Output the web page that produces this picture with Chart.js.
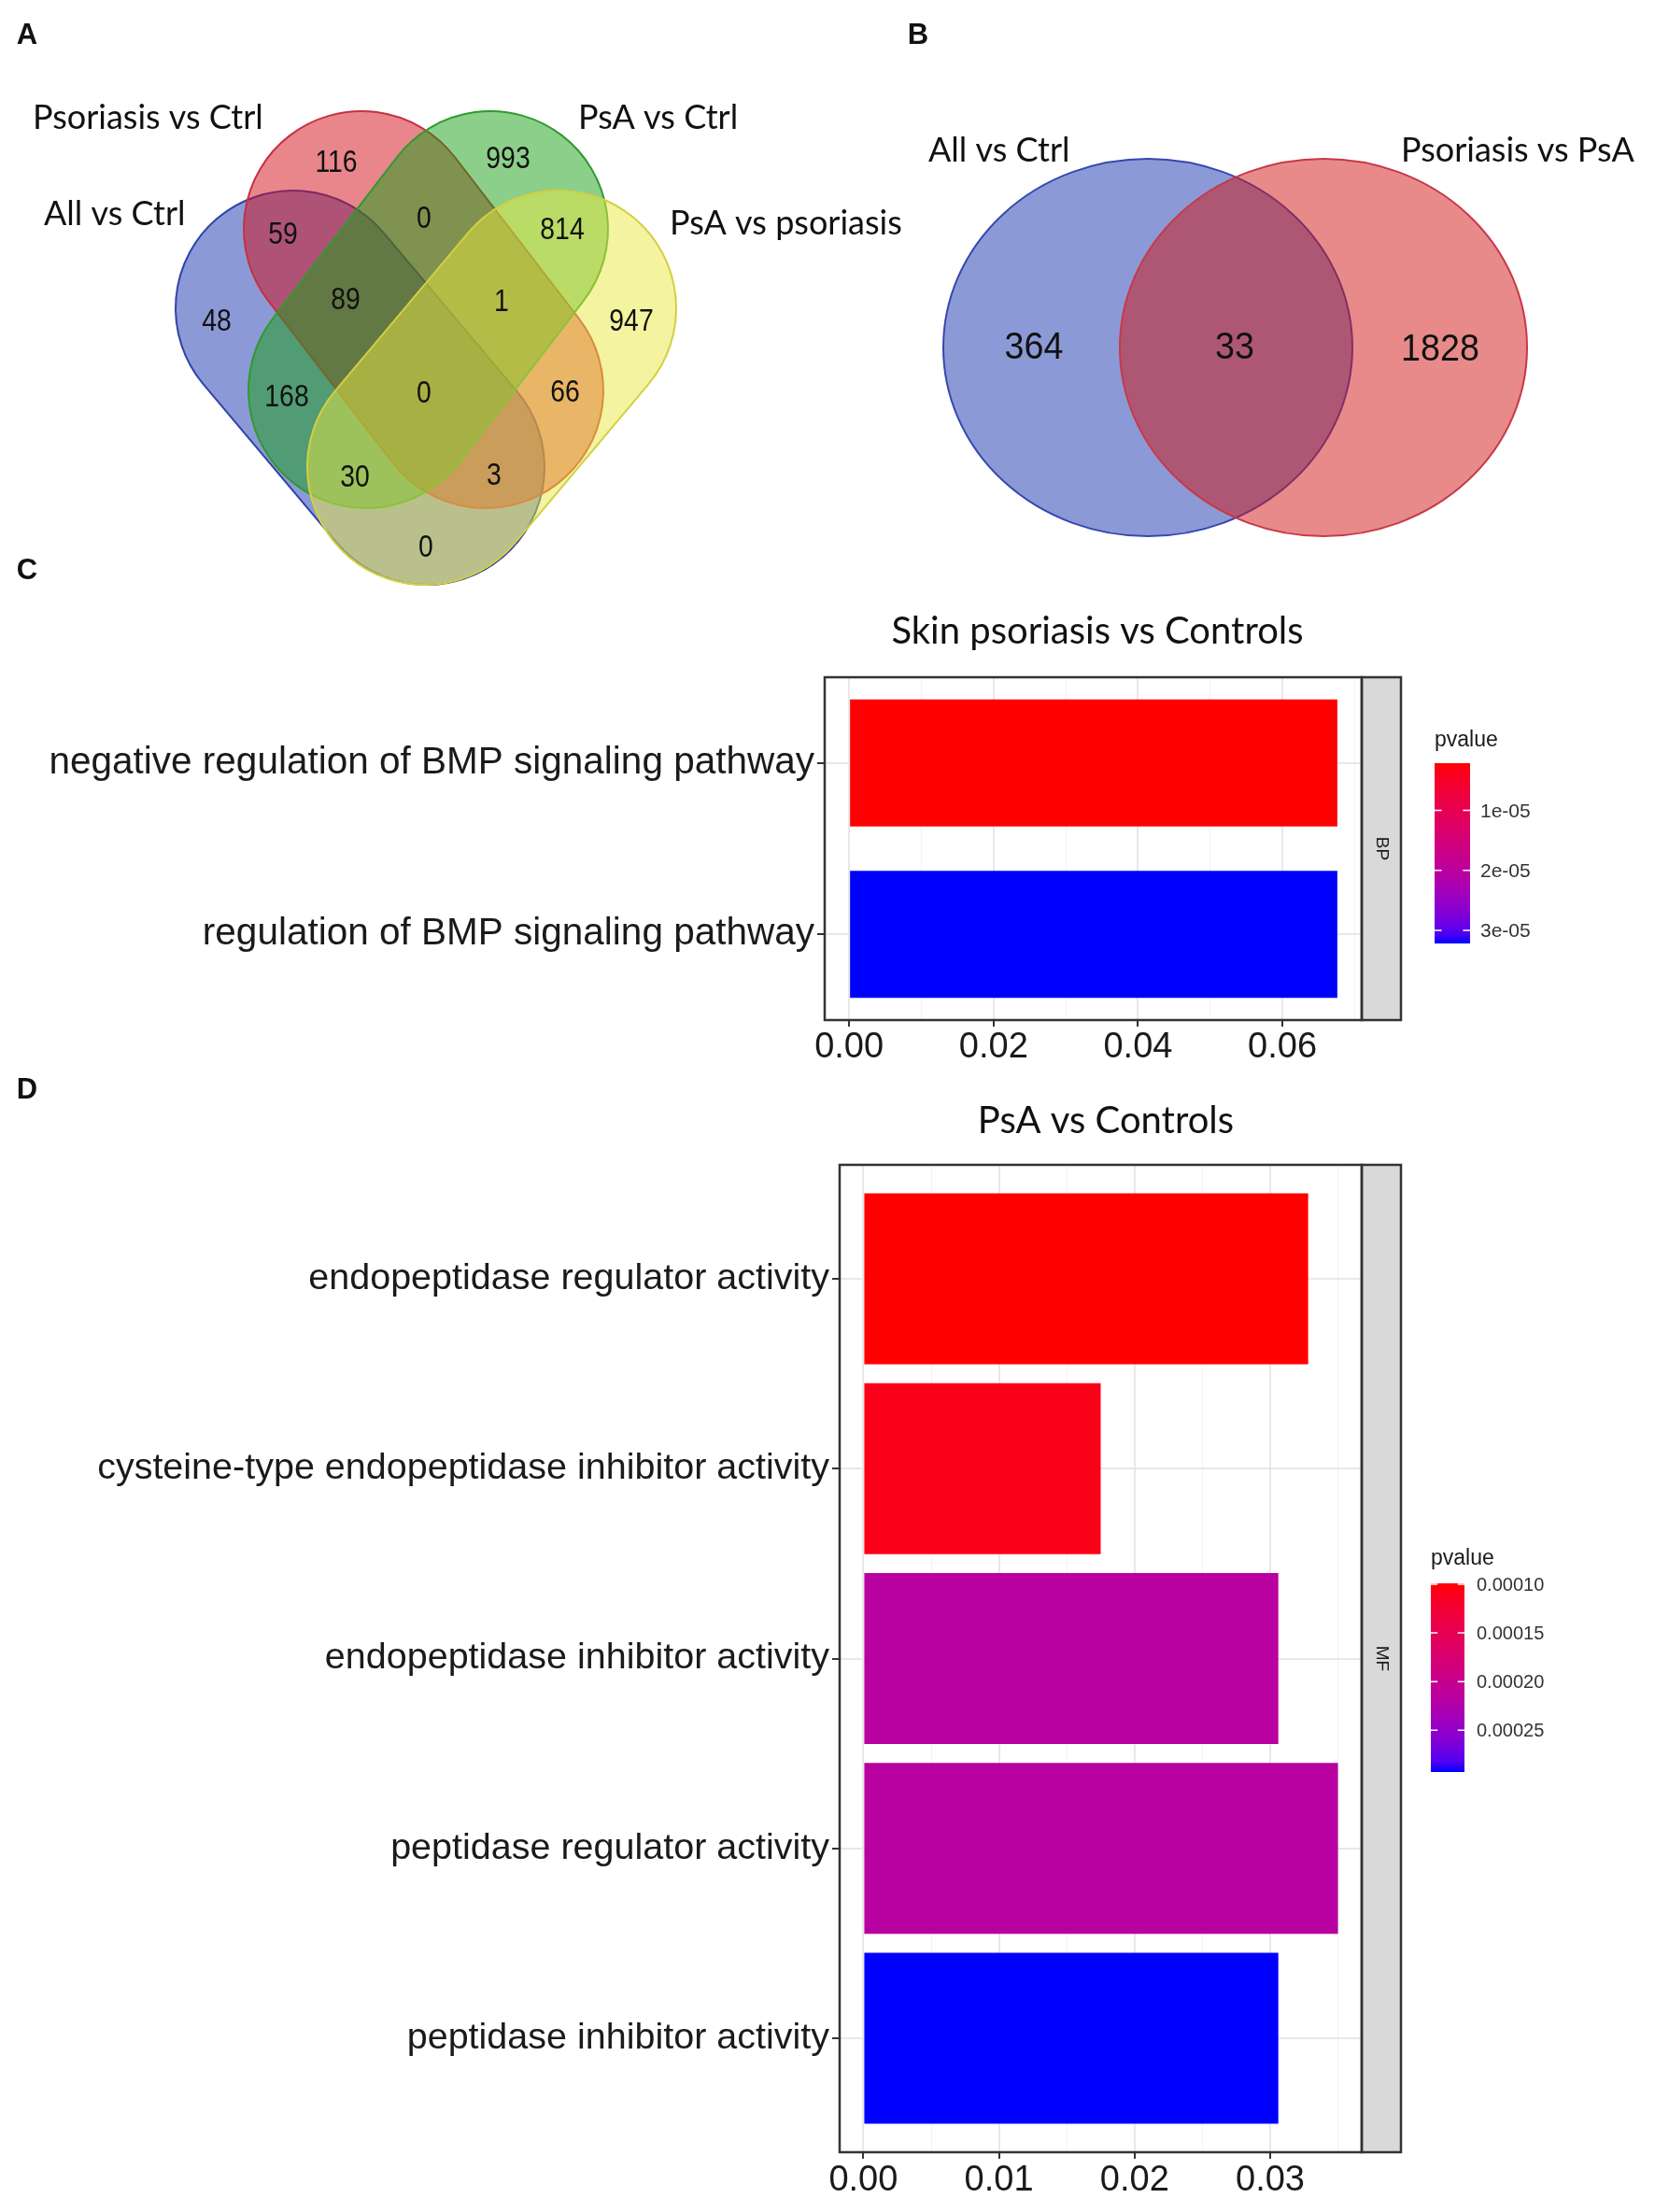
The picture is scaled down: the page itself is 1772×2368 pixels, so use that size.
<!DOCTYPE html>
<html><head><meta charset="utf-8">
<script src="https://cdn.jsdelivr.net/npm/chart.js@4.4.1/dist/chart.umd.min.js"></script>
<style>
html,body{margin:0;padding:0;background:#fff;}
body{width:1772px;height:2368px;position:relative;overflow:hidden;}
canvas{position:absolute;}
</style></head><body>
<canvas id="cA" style="left:0px;top:0px;width:1000px;height:660px" width="1000" height="660"></canvas>
<canvas id="cB" style="left:970px;top:0px;width:802px;height:660px" width="802" height="660"></canvas>
<canvas id="cC" style="left:0px;top:590px;width:1772px;height:560px" width="1772" height="560"></canvas>
<canvas id="cD" style="left:0px;top:1150px;width:1772px;height:1218px" width="1772" height="1218"></canvas>
<script>
// ---------------- DATA ----------------
const vennASets = ['All vs Ctrl', 'Psoriasis vs Ctrl', 'PsA vs Ctrl', 'PsA vs psoriasis'];
const vennARegions = ['A', 'B', 'C', 'D', 'AB', 'BC', 'CD', 'AC', 'BD', 'AD', 'ABC', 'BCD', 'ABCD', 'ACD', 'ABD'];
const vennACounts = [48, 116, 993, 947, 59, 0, 814, 168, 66, 0, 89, 1, 0, 30, 3];

const vennBSets = ['All vs Ctrl', 'Psoriasis vs PsA'];
const vennBRegions = ['A', 'AB', 'B'];
const vennBCounts = [364, 33, 1828];

const cTitle = 'Skin psoriasis vs Controls';
const cCategories = ['negative regulation of BMP signaling pathway', 'regulation of BMP signaling pathway'];
const cGeneRatio = [0.0676, 0.0676];
const cPvalue = [2.13e-6, 3.22e-5];
const cTicks = [0, 0.02, 0.04, 0.06];
const cTickLabels = ['0.00', '0.02', '0.04', '0.06'];
const cMinorTicks = [0.01, 0.03, 0.05, 0.07];
const cLegendTicks = [1e-5, 2e-5, 3e-5];
const cLegendLabels = ['1e-05', '2e-05', '3e-05'];
const cStrip = 'BP';

const dTitle = 'PsA vs Controls';
const dCategories = ['endopeptidase regulator activity', 'cysteine-type endopeptidase inhibitor activity',
  'endopeptidase inhibitor activity', 'peptidase regulator activity', 'peptidase inhibitor activity'];
const dGeneRatio = [0.0328, 0.0175, 0.0306, 0.0350, 0.0306];
const dPvalue = [9.9e-5, 1.08e-4, 2.16e-4, 2.16e-4, 2.93e-4];
const dTicks = [0, 0.01, 0.02, 0.03];
const dTickLabels = ['0.00', '0.01', '0.02', '0.03'];
const dMinorTicks = [0.005, 0.015, 0.025, 0.035];
const dLegendTicks = [1e-4, 1.5e-4, 2e-4, 2.5e-4];
const dLegendLabels = ['0.00010', '0.00015', '0.00020', '0.00025'];
const dStrip = 'MF';

const legendTitle = 'pvalue';

// ---------------- LAYOUT (positions / styles) ----------------
const SANS = "'Liberation Sans', Arial, Helvetica, sans-serif";
const HUM = "Lato, 'Open Sans', sans-serif";

// capsules: two end-cap centres + radius (data units = page px)
const vennAShapes = [
  {p1: [314, 330], p2: [457, 500], r: 126, fill: 'rgba(23,53,173,0.5)', stroke: '#2f43a8'},
  {p1: [387, 245], p2: [520, 418], r: 126, fill: 'rgba(209,13,23,0.5)', stroke: '#c83040'},
  {p1: [525, 245], p2: [392, 418], r: 126, fill: 'rgba(25,159,21,0.5)', stroke: '#2f9a30'},
  {p1: [598, 330], p2: [455, 500], r: 126, fill: 'rgba(233,231,65,0.5)', stroke: '#d2d040'}
];
const vennAPos = [[232,342],[360,172],[544,168],[676,342],[303,249],[454,232],[602,244],[307,423],[605,418],[456,584],[370,319],[537,321],[454,419],[380,509],[529,507]];
const vennASetPos = [[47,241],[35,138],[619,138],[717,251]];

const vennBShapes = [
  {cx: 1229, cy: 372, rx: 219, ry: 202, fill: 'rgba(23,53,173,0.5)', stroke: '#3548b0'},
  {cx: 1417, cy: 372, rx: 218, ry: 202, fill: 'rgba(209,21,21,0.5)', stroke: '#c83848'}
];
const vennBPos = [[1107,369],[1322,369],[1542,371]];
const vennBSetPos = [[994,173],[1500,173]];

// ---------------- COLOUR HELPERS ----------------
function toLin(c){c/=255;return c<=0.04045?c/12.92:Math.pow((c+0.055)/1.055,2.4);}
function toSrgb(l){l=Math.max(0,Math.min(1,l));const v=l<=0.0031308?12.92*l:1.055*Math.pow(l,1/2.4)-0.055;return Math.round(v*255);}
function rgb2lab(c){const r=toLin(c[0]),g=toLin(c[1]),b=toLin(c[2]);
  const X=(0.4124*r+0.3576*g+0.1805*b)/0.95047,Y=0.2126*r+0.7152*g+0.0722*b,Z=(0.0193*r+0.1192*g+0.9505*b)/1.08883;
  const f=t=>t>0.008856?Math.cbrt(t):7.787*t+16/116;const fx=f(X),fy=f(Y),fz=f(Z);
  return [116*fy-16,500*(fx-fy),200*(fy-fz)];}
function lab2rgb(L){const fy=(L[0]+16)/116,fx=fy+L[1]/500,fz=fy-L[2]/200;
  const fi=t=>{const t3=t*t*t;return t3>0.008856?t3:(t-16/116)/7.787;};
  const X=fi(fx)*0.95047,Y=fi(fy),Z=fi(fz)*1.08883;
  return [toSrgb(3.2406*X-1.5372*Y-0.4986*Z),toSrgb(-0.9689*X+1.8758*Y+0.0415*Z),toSrgb(0.0557*X-0.2040*Y+1.0570*Z)];}
const LAB_LO = rgb2lab([255,0,0]), LAB_HI = rgb2lab([0,0,255]);
function grad(t){t=Math.max(0,Math.min(1,t));const c=lab2rgb([0,1,2].map(i=>LAB_LO[i]+(LAB_HI[i]-LAB_LO[i])*t));return 'rgb('+c.join(',')+')';}

// ---------------- VENN PLUGIN ----------------
function capsulePath(ctx, x1, y1, x2, y2, r){
  const ang=Math.atan2(y2-y1, x2-x1);
  ctx.beginPath();
  ctx.arc(x2, y2, r, ang-Math.PI/2, ang+Math.PI/2, false);
  ctx.arc(x1, y1, r, ang+Math.PI/2, ang+3*Math.PI/2, false);
  ctx.closePath();
}
function drawText(ctx, txt, x, y, font, align, sx, color){
  ctx.save(); ctx.font=font; ctx.fillStyle=color||'#111'; ctx.textAlign=align; ctx.textBaseline='alphabetic';
  ctx.translate(x,y); ctx.scale(sx||1,1); ctx.fillText(txt,0,0); ctx.restore();
}
const vennPlugin = {
  id:'vennDecor',
  beforeDatasetsDraw(chart, args, o){
    const ctx=chart.ctx, xs=chart.scales.x, ys=chart.scales.y;
    const px=v=>xs.getPixelForValue(v), py=v=>ys.getPixelForValue(v);
    ctx.save();
    o.shapes.forEach(s=>{
      if(o.kind==='quad'){
        capsulePath(ctx, px(s.p1[0]), py(s.p1[1]), px(s.p2[0]), py(s.p2[1]), px(s.p1[0]+s.r)-px(s.p1[0]));
      } else {
        ctx.beginPath(); ctx.ellipse(px(s.cx), py(s.cy), px(s.cx+s.rx)-px(s.cx), Math.abs(py(s.cy+s.ry)-py(s.cy)), 0, 0, Math.PI*2);
      }
      ctx.fillStyle=s.fill; ctx.fill(); ctx.lineWidth=2; ctx.strokeStyle=s.stroke; ctx.stroke();
    });
    ctx.restore();
  },
  afterDatasetsDraw(chart, args, o){
    const ctx=chart.ctx, xs=chart.scales.x, ys=chart.scales.y;
    const meta=chart.getDatasetMeta(0);
    meta.data.forEach((el,i)=>{
      drawText(ctx, String(o.counts[i]), el.x, el.y+o.numSize*0.358, o.numSize+'px '+SANS, 'center', o.numScale, '#111');
    });
    o.sets.forEach((name,i)=>{
      drawText(ctx, name, xs.getPixelForValue(o.setPos[i][0]), ys.getPixelForValue(o.setPos[i][1]), o.setSize+'px '+HUM, 'left', 1, '#111');
    });
    drawText(ctx, o.letter, xs.getPixelForValue(o.letterPos[0]), ys.getPixelForValue(o.letterPos[1]), 'bold 31px '+SANS, 'center', 1, '#111');
  }
};
function makeVenn(id, x0, x1, cfg){
  return new Chart(document.getElementById(id), {
    type:'scatter',
    data:{datasets:[{data: cfg.counts.map((c,i)=>({x:cfg.pos[i][0], y:cfg.pos[i][1]})), pointRadius:0, pointHoverRadius:0}]},
    options:{responsive:false, animation:false, events:[], devicePixelRatio:1,
      layout:{padding:0},
      plugins:{legend:{display:false}, tooltip:{enabled:false}, vennDecor: cfg},
      scales:{x:{type:'linear', display:false, min:x0, max:x1}, y:{type:'linear', display:false, min:0, max:660, reverse:true}}},
    plugins:[vennPlugin]
  });
}

// ---------------- GO BAR PLUGIN ----------------
const goPlugin = {
  id:'goDecor',
  afterDatasetsDraw(chart, args, o){
    const ctx=chart.ctx, a=chart.chartArea;
    ctx.save();
    ctx.fillStyle='#d9d9d9'; ctx.fillRect(a.right, a.top, o.stripW, a.bottom-a.top);
    ctx.strokeStyle='#333'; ctx.lineWidth=2.5;
    ctx.strokeRect(a.right, a.top, o.stripW, a.bottom-a.top);
    ctx.strokeRect(a.left, a.top, a.right-a.left, a.bottom-a.top);
    ctx.translate(a.right+o.stripW/2, (a.top+a.bottom)/2); ctx.rotate(Math.PI/2);
    ctx.fillStyle='#1a1a1a'; ctx.font='19px '+SANS; ctx.textAlign='center'; ctx.textBaseline='middle';
    ctx.fillText(o.strip, 0, 0);
    ctx.restore();
  },
  afterDraw(chart, args, o){
    const ctx=chart.ctx;
    drawText(ctx, o.title, o.titleX, o.titleY, '40px '+HUM, 'center', 1, '#111');
    drawText(ctx, o.letter, o.letterPos[0], o.letterPos[1], 'bold 31px '+SANS, 'center', 1, '#111');
    const L=o.legend, pmin=Math.min(...o.pvals), pmax=Math.max(...o.pvals);
    drawText(ctx, legendTitle, L.x, L.titleY, L.titleSize+'px '+SANS, 'left', 1, '#1a1a1a');
    const g=ctx.createLinearGradient(0, L.y, 0, L.y+L.h);
    for(let i=0;i<=20;i++) g.addColorStop(i/20, grad(i/20));
    ctx.save(); ctx.fillStyle=g; ctx.fillRect(L.x, L.y, L.w, L.h);
    ctx.strokeStyle='#fff'; ctx.lineWidth=1.5;
    o.legendTicks.forEach((v,i)=>{
      const y=L.y+(v-pmin)/(pmax-pmin)*L.h;
      ctx.beginPath(); ctx.moveTo(L.x,y); ctx.lineTo(L.x+L.w*0.2,y); ctx.moveTo(L.x+L.w*0.8,y); ctx.lineTo(L.x+L.w,y); ctx.stroke();
      drawText(ctx, o.legendLabels[i], L.labelX, y+L.labelSize*0.36, L.labelSize+'px '+SANS, 'left', 1, '#333');
    });
    ctx.restore();
  }
};
function makeGo(id, W, H, cfg){
  const maxV=Math.max(...cfg.values);
  const pmin=Math.min(...cfg.pvals), pmax=Math.max(...cfg.pvals);
  const colors=cfg.pvals.map(p=>grad((p-pmin)/(pmax-pmin)));
  const allTicks=cfg.ticks.concat(cfg.minor).sort((a,b)=>a-b);
  const majorIdx=v=>cfg.ticks.findIndex(m=>Math.abs(m-v)<1e-9);
  const n=cfg.cats.length;
  return new Chart(document.getElementById(id), {
    type:'bar',
    data:{datasets:[{data: cfg.values.map((v,i)=>({x:v, y:i+1})), backgroundColor: colors, borderWidth:0,
      barPercentage: cfg.barPct, categoryPercentage:1}]},
    options:{responsive:false, animation:false, events:[], devicePixelRatio:1, indexAxis:'y',
      layout:{padding:{left:0, top:cfg.area.top, right:W-cfg.area.right, bottom:H-cfg.area.bottom-cfg.xH}},
      plugins:{legend:{display:false}, tooltip:{enabled:false}, title:{display:false}, goDecor: cfg.decor},
      scales:{
        x:{type:'linear', position:'bottom', min:-0.05*maxV, max:1.05*maxV, offset:false,
          afterBuildTicks:s=>{s.ticks=allTicks.map(v=>({value:v}));},
          afterFit:s=>{s.height=cfg.xH;},
          border:{display:false},
          grid:{offset:false, color:c=>majorIdx(c.tick.value)>=0?'#e8e8e8':'#f3f3f3', lineWidth:c=>majorIdx(c.tick.value)>=0?2:1,
            tickColor:c=>majorIdx(c.tick.value)>=0?'#333':'rgba(0,0,0,0)', tickLength:7, tickWidth:2},
          ticks:{autoSkip:false, maxRotation:0, padding:cfg.xPad, color:'#1a1a1a', font:{family:SANS, size:38},
            callback:v=>{const k=majorIdx(v);return k>=0?cfg.tickLabels[k]:'';}}
        },
        y:{type:'linear', position:'left', min:1-cfg.expand, max:n+cfg.expand, reverse:true, offset:false,
          afterBuildTicks:s=>{s.ticks=cfg.cats.map((c,i)=>({value:i+1}));},
          afterFit:s=>{s.width=cfg.area.left;},
          border:{display:false},
          grid:{offset:false, color:'#e8e8e8', lineWidth:2, tickColor:'#333', tickLength:8, tickWidth:2},
          ticks:{autoSkip:false, padding:3, color:'#1a1a1a', font:{family:SANS, size:cfg.catSize},
            callback:v=>cfg.cats[Math.round(v)-1]}
        }
      }},
    plugins:[goPlugin]
  });
}

function build(){
  makeVenn('cA', 0, 1000, {kind:'quad', shapes:vennAShapes, counts:vennACounts, pos:vennAPos, sets:vennASets, setPos:vennASetPos,
    numSize:33, numScale:0.86, setSize:36, letter:'A', letterPos:[29,47]});
  makeVenn('cB', 970, 1772, {kind:'two', shapes:vennBShapes, counts:vennBCounts, pos:vennBPos, sets:vennBSets, setPos:vennBSetPos,
    numSize:41, numScale:0.92, setSize:36, letter:'B', letterPos:[983,47]});
  makeGo('cC', 1772, 560, {cats:cCategories, values:cGeneRatio, pvals:cPvalue, ticks:cTicks, tickLabels:cTickLabels, minor:cMinorTicks,
    area:{left:883, top:135, right:1458, bottom:502}, xH:55, xPad:0, expand:0.5, barPct:0.74, catSize:40.5,
    decor:{title:cTitle, titleX:1175, titleY:99, letter:'C', letterPos:[29,30], strip:cStrip, stripW:42, pvals:cPvalue,
      legendTicks:cLegendTicks, legendLabels:cLegendLabels,
      legend:{x:1536, y:227, w:38, h:193, titleY:209, titleSize:23, labelX:1585, labelSize:21}}});
  makeGo('cD', 1772, 1218, {cats:dCategories, values:dGeneRatio, pvals:dPvalue, ticks:dTicks, tickLabels:dTickLabels, minor:dMinorTicks,
    area:{left:899, top:97, right:1458, bottom:1154}, xH:55, xPad:1, expand:0.6, barPct:0.9, catSize:39.5,
    decor:{title:dTitle, titleX:1184, titleY:63, letter:'D', letterPos:[29,26], strip:dStrip, stripW:42, pvals:dPvalue,
      legendTicks:dLegendTicks, legendLabels:dLegendLabels,
      legend:{x:1532, y:545, w:36, h:202, titleY:525, titleSize:23, labelX:1581, labelSize:20}}});
}
let built=false;
function go(){ if(built) return; built=true; build(); }
if(document.fonts && document.fonts.load){
  Promise.all(['36px Lato','40px Lato','38px "Liberation Sans"','bold 31px "Liberation Sans"'].map(f=>document.fonts.load(f).catch(()=>null)))
    .then(go, go);
  setTimeout(go, 800);
} else go();
</script>
</body></html>
